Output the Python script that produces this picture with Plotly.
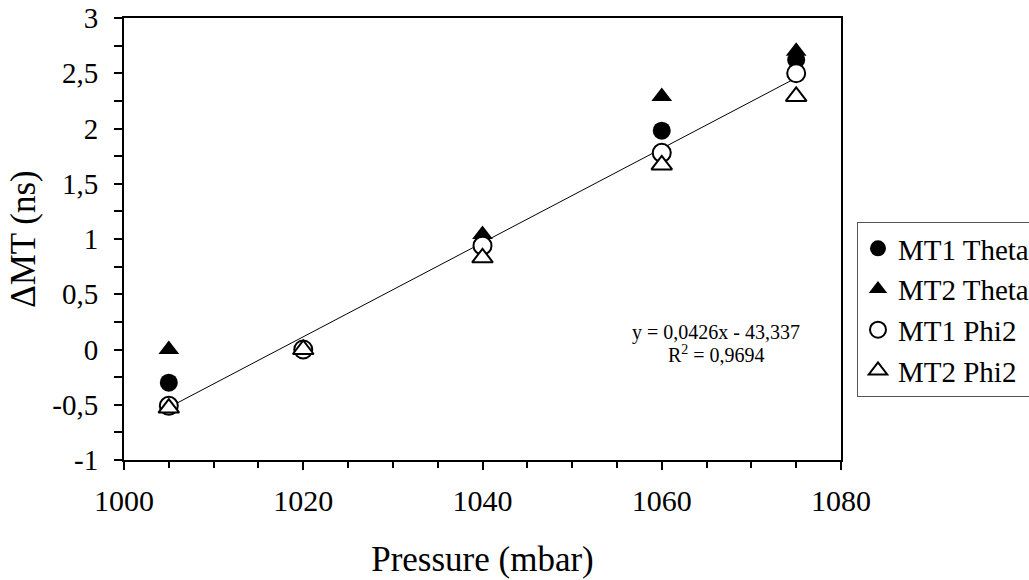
import plotly.graph_objects as go

pressure = [1005, 1020, 1040, 1060, 1075]
mt1_theta = [-0.30, 0.00, 0.95, 1.98, 2.62]
mt2_theta = [0.00, 0.00, 1.04, 2.29, 2.70]
mt1_phi2 = [-0.51, 0.00, 0.94, 1.78, 2.50]
mt2_phi2 = [-0.53, 0.00, 0.83, 1.67, 2.29]

slope = 0.0426
intercept = -43.337
fit_x = [1005, 1075]

x_ticks = [1000, 1020, 1040, 1060, 1080]
x_ticktext = ["1000", "1020", "1040", "1060", "1080"]
y_ticks = [-1, -0.5, 0, 0.5, 1, 1.5, 2, 2.5, 3]
y_ticktext = ["-1", "-0,5", "0", "0,5", "1", "1,5", "2", "2,5", "3"]

FONT = "Liberation Serif"

fig = go.Figure()
fig.add_trace(go.Scatter(
    x=fit_x, y=[slope * v + intercept for v in fit_x], mode="lines",
    line=dict(color="black", width=1), showlegend=False, hoverinfo="skip"))

series = [
    ("MT1 Theta", mt1_theta, "circle", "black"),
    ("MT2 Theta", mt2_theta, "triangle-up", "black"),
    ("MT1 Phi2", mt1_phi2, "circle", "white"),
    ("MT2 Phi2", mt2_phi2, "triangle-up", "white"),
]
for name, vals, sym, fill in series:
    fig.add_trace(go.Scatter(
        x=pressure, y=vals, mode="markers", name=name,
        marker=dict(symbol=sym, size=18, color=fill,
                    line=dict(color="black", width=2 if fill == "white" else 0))))

fig.add_annotation(
    x=1066.1, y=0.15, xref="x", yref="y", showarrow=False,
    text="y = 0,0426x - 43,337",
    font=dict(family=FONT, size=20, color="black"), align="center")
fig.add_annotation(
    x=1066.1, y=-0.04, xref="x", yref="y", showarrow=False,
    text="R<sup>2</sup> = 0,9694",
    font=dict(family=FONT, size=20, color="black"), align="center")

fig.update_xaxes(
    range=[1000, 1080], tickvals=x_ticks, ticktext=x_ticktext,
    showgrid=False, zeroline=False, showline=True, linecolor="black", linewidth=2,
    mirror=True, ticks="outside", ticklen=8, tickwidth=1.5, tickcolor="black",
    minor=dict(dtick=5, ticks="outside", ticklen=6, tickwidth=1.5, tickcolor="black", showgrid=False),
    tickfont=dict(family=FONT, size=30, color="black"), ticklabelstandoff=5,
    title=dict(text="Pressure (mbar)", font=dict(family=FONT, size=35, color="black"), standoff=30))

fig.update_yaxes(
    range=[-1, 3], tickvals=y_ticks, ticktext=y_ticktext,
    showgrid=False, zeroline=False, showline=True, linecolor="black", linewidth=2,
    mirror=True, ticks="outside", ticklen=8, tickwidth=1.5, tickcolor="black",
    minor=dict(dtick=0.25, ticks="outside", ticklen=8, tickwidth=1.5, tickcolor="black", showgrid=False),
    tickfont=dict(family=FONT, size=29, color="black"), ticklabelstandoff=10,
    title=dict(text="ΔMT (ns)", font=dict(family=FONT, size=35, color="black"), standoff=6))

fig.update_layout(
    width=1029, height=580,
    margin=dict(l=124, r=188, t=18, b=120, autoexpand=False),
    plot_bgcolor="white", paper_bgcolor="white",
    font=dict(family=FONT, color="black"),
    legend=dict(x=1.0223, y=0.5385, xanchor="left", yanchor="top",
                bordercolor="#555555", borderwidth=1, bgcolor="white",
                font=dict(family=FONT, size=29, color="black"),
                itemwidth=30, tracegroupgap=0),
)

fig.write_html("out.html")
